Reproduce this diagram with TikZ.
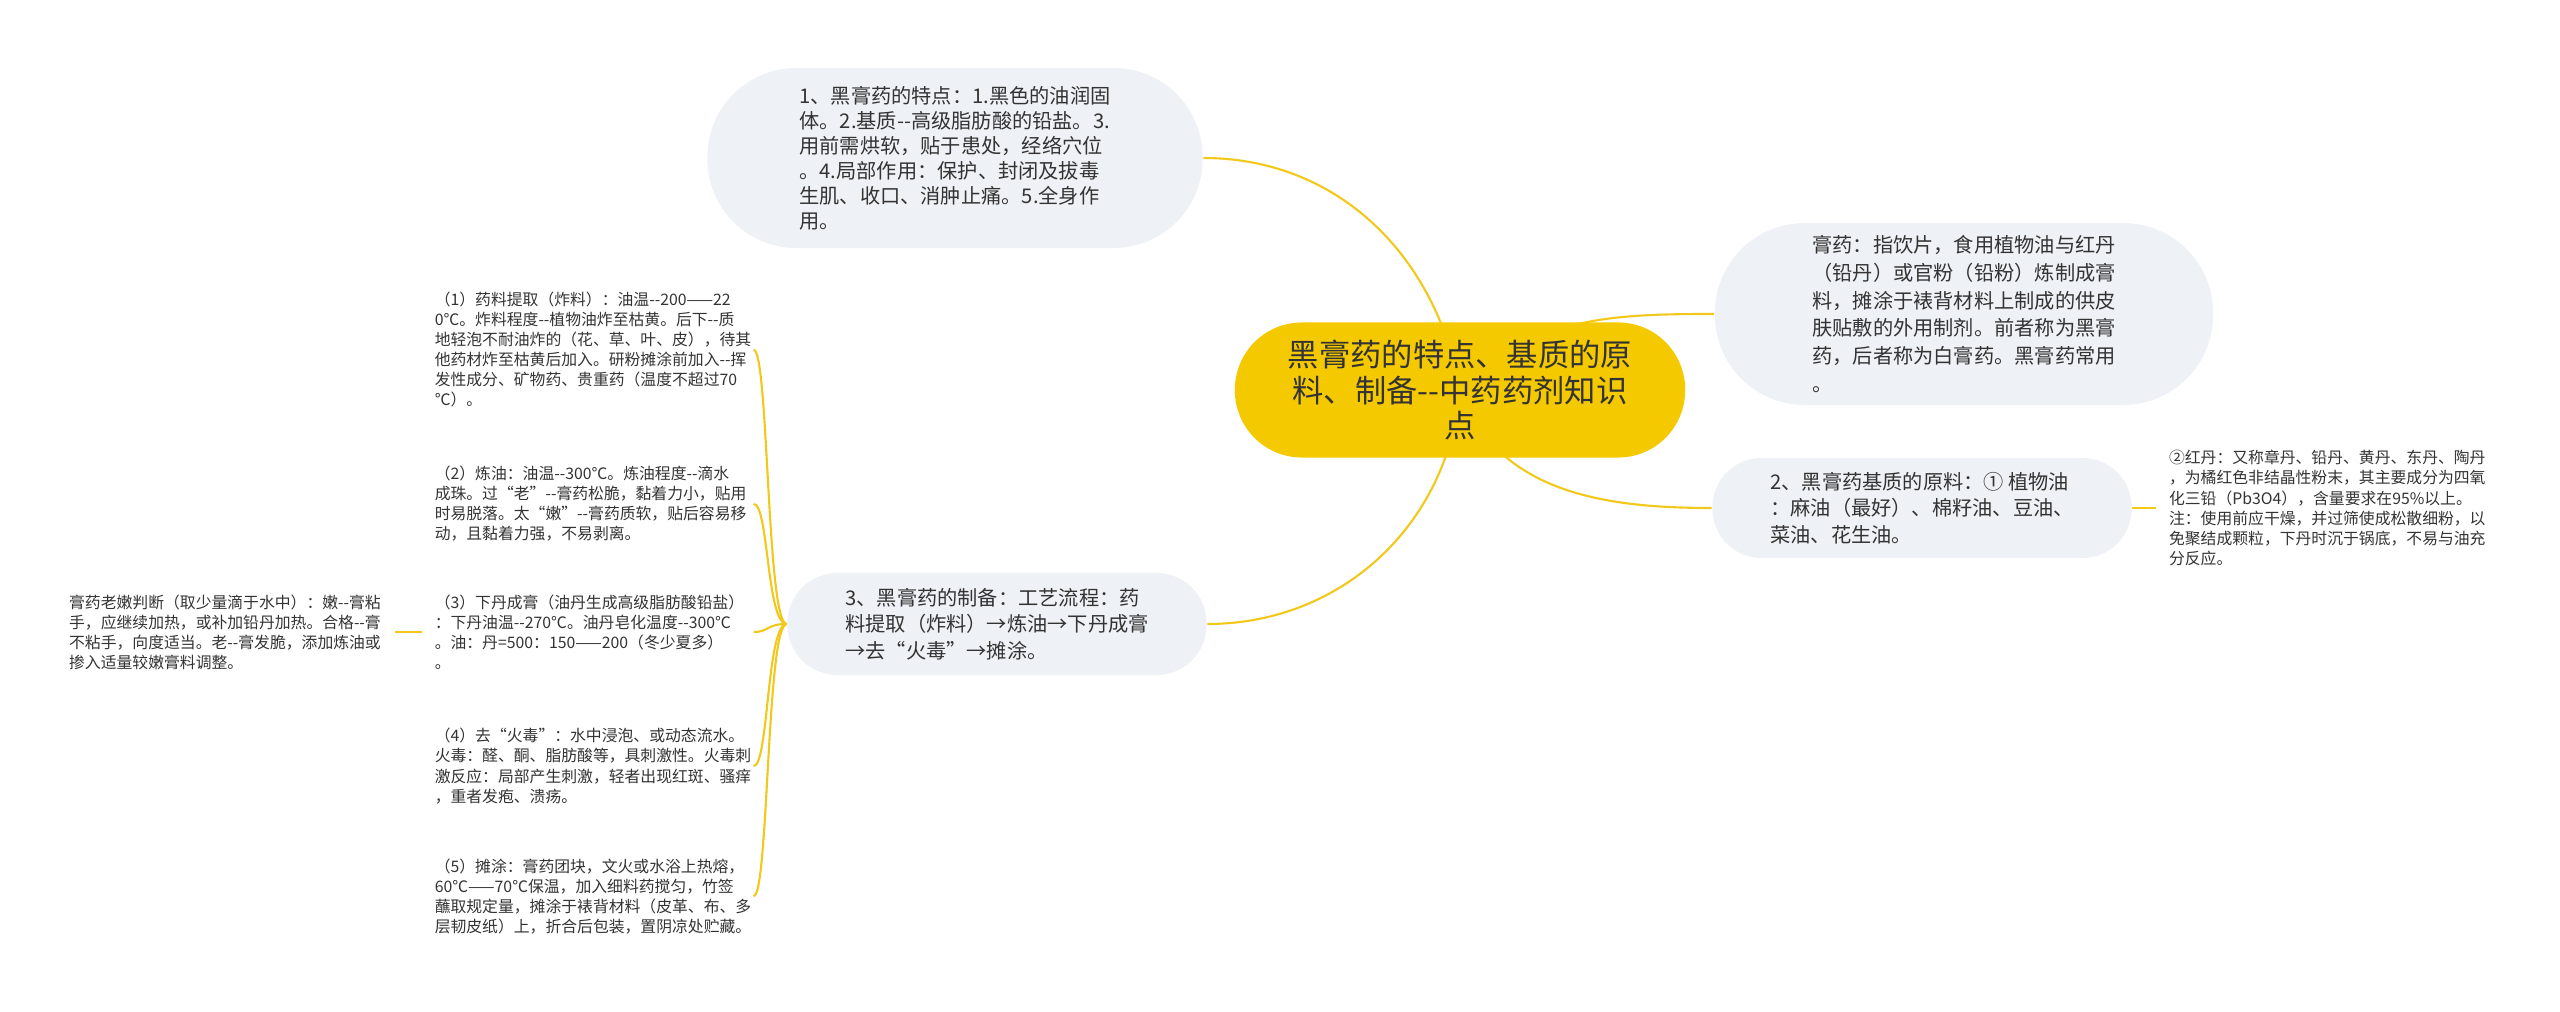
\documentclass[tikz,border=0pt]{standalone}
\usepackage{fontspec}
\newfontfamily\zhfont{Noto Sans CJK SC}
\usetikzlibrary{positioning, backgrounds}
\definecolor{mapgold}{HTML}{F5C900}
\definecolor{mapline}{HTML}{F2C81A}
\definecolor{mapgrey}{HTML}{EEF1F5}
\definecolor{maptext}{HTML}{333333}
\exhyphenpenalty=10000
\hyphenpenalty=10000

\tikzset{
  root/.style={fill=mapgold, rounded corners=0.67cm, minimum width=4.5cm, minimum height=1.35cm,
    align=center, text=maptext, inner sep=0pt, font=\zhfont\fontsize{8.9}{10.1}\selectfont},
  topic/.style={fill=mapgrey, align=left, text=maptext, inner sep=0pt,
    font=\zhfont\fontsize{5.75}{7.5}\selectfont},
  leaf/.style={text width=3.06cm, align=left, text=maptext, inner xsep=0.12cm, inner ysep=0pt,
    font=\zhfont\fontsize{4.5}{5.7}\selectfont},
  branch/.style={draw=mapline, line width=0.6pt},
}

\begin{document}
\begin{tikzpicture}[x=0.01cm, y=0.01cm]
  \useasboundingbox (0,0) rectangle (2560,1012);

  \node[root] (c) at (1460,622) {黑膏药的特点、基质的原\\料、制备--中药药剂知识\\点};

  \node[topic, minimum width=4.95cm, minimum height=1.8cm, rounded corners=0.89cm,
    font=\zhfont\fontsize{5.75}{7.1}\selectfont] (t1) at (955,854)
    {1、黑膏药的特点：1.黑色的油润固\\体。2.基质--高级脂肪酸的铅盐。3.\\用前需烘软，贴于患处，经络穴位\\。4.局部作用：保护、封闭及拔毒\\生肌、收口、消肿止痛。5.全身作\\用。};
  \node[topic, minimum width=4.98cm, minimum height=1.82cm, rounded corners=0.9cm,
    font=\zhfont\fontsize{5.75}{7.9}\selectfont] (tR) at (1964,698)
    {膏药：指饮片，食用植物油与红丹\\（铅丹）或官粉（铅粉）炼制成膏\\料，摊涂于裱背材料上制成的供皮\\肤贴敷的外用制剂。前者称为黑膏\\药，后者称为白膏药。黑膏药常用\\。};
  \node[topic, minimum width=4.19cm, minimum height=1.0cm, rounded corners=0.49cm] (t2) at (1922,504)
    {2、黑膏药基质的原料：① 植物油\\：麻油（最好）、棉籽油、豆油、\\菜油、花生油。};
  \node[topic, minimum width=4.19cm, minimum height=1.02cm, rounded corners=0.5cm] (t3) at (997,388)
    {3、黑膏药的制备：工艺流程：药\\料提取（炸料）→炼油→下丹成膏\\→去“火毒”→摊涂。};

  \node[leaf, text width=3.2cm, right=0.24cm of t2.east] (rd)
    {②红丹：又称章丹、铅丹、黄丹、东丹、陶丹\\，为橘红色非结晶性粉末，其主要成分为四氧\\化三铅（Pb3O4），含量要求在95\%以上。\\注：使用前应干燥，并过筛使成松散细粉，以\\免聚结成颗粒，下丹时沉于锅底，不易与油充\\分反应。};

  \node[leaf, left=0.33cm of t3.west, yshift=2.74cm] (l1)
    {（1）药料提取（炸料）：油温--200——22\\0℃。炸料程度--植物油炸至枯黄。后下--质\\地轻泡不耐油炸的（花、草、叶、皮），待其\\他药材炸至枯黄后加入。研粉摊涂前加入--挥\\发性成分、矿物药、贵重药（温度不超过70\\℃）。};
  \node[leaf, left=0.33cm of t3.west, yshift=1.2cm] (l2)
    {（2）炼油：油温--300℃。炼油程度--滴水\\成珠。过“老”--膏药松脆，黏着力小，贴用\\时易脱落。太“嫩”--膏药质软，贴后容易移\\动，且黏着力强，不易剥离。};
  \node[leaf, left=0.33cm of t3.west, yshift=-0.08cm] (l3)
    {（3）下丹成膏（油丹生成高级脂肪酸铅盐）\\：下丹油温--270℃。油丹皂化温度--300℃\\。油：丹=500：150——200（冬少夏多）\\。};
  \node[leaf, left=0.33cm of t3.west, yshift=-1.42cm] (l4)
    {（4）去“火毒”：水中浸泡、或动态流水。\\火毒：醛、酮、脂肪酸等，具刺激性。火毒刺\\激反应：局部产生刺激，轻者出现红斑、骚痒\\，重者发疱、溃疡。};
  \node[leaf, left=0.33cm of t3.west, yshift=-2.72cm] (l5)
    {（5）摊涂：膏药团块，文火或水浴上热熔，\\60℃——70℃保温，加入细料药搅匀，竹签\\蘸取规定量，摊涂于裱背材料（皮革、布、多\\层韧皮纸）上，折合后包装，置阴凉处贮藏。};

  \node[leaf, text width=3.13cm, left=0.27cm of l3.west] (l3a)
    {膏药老嫩判断（取少量滴于水中）：嫩--膏粘\\手，应继续加热，或补加铅丹加热。合格--膏\\不粘手，向度适当。老--膏发脆，添加炼油或\\掺入适量较嫩膏料调整。};

  % connectors behind the nodes
  \begin{scope}[on background layer]
    \draw[branch] (c.center) to[out=100, in=0] (t1.east);
    \draw[branch] (c.center) to[out=45, in=180] (tR.west);
    \draw[branch] (c.center) to[out=-70, in=180] (t2.west);
    \draw[branch] (c.center) to[out=-95, in=0] (t3.east);
    \draw[branch] (t2.east) -- (rd.west);
    \foreach \l in {l1,l2,l3,l4,l5}
      \draw[branch] (t3.west) .. controls +(-20,0) and +(15,0) .. (\l.east);
    \draw[branch] (l3.west) -- (l3a.east);
  \end{scope}
\end{tikzpicture}
\end{document}
